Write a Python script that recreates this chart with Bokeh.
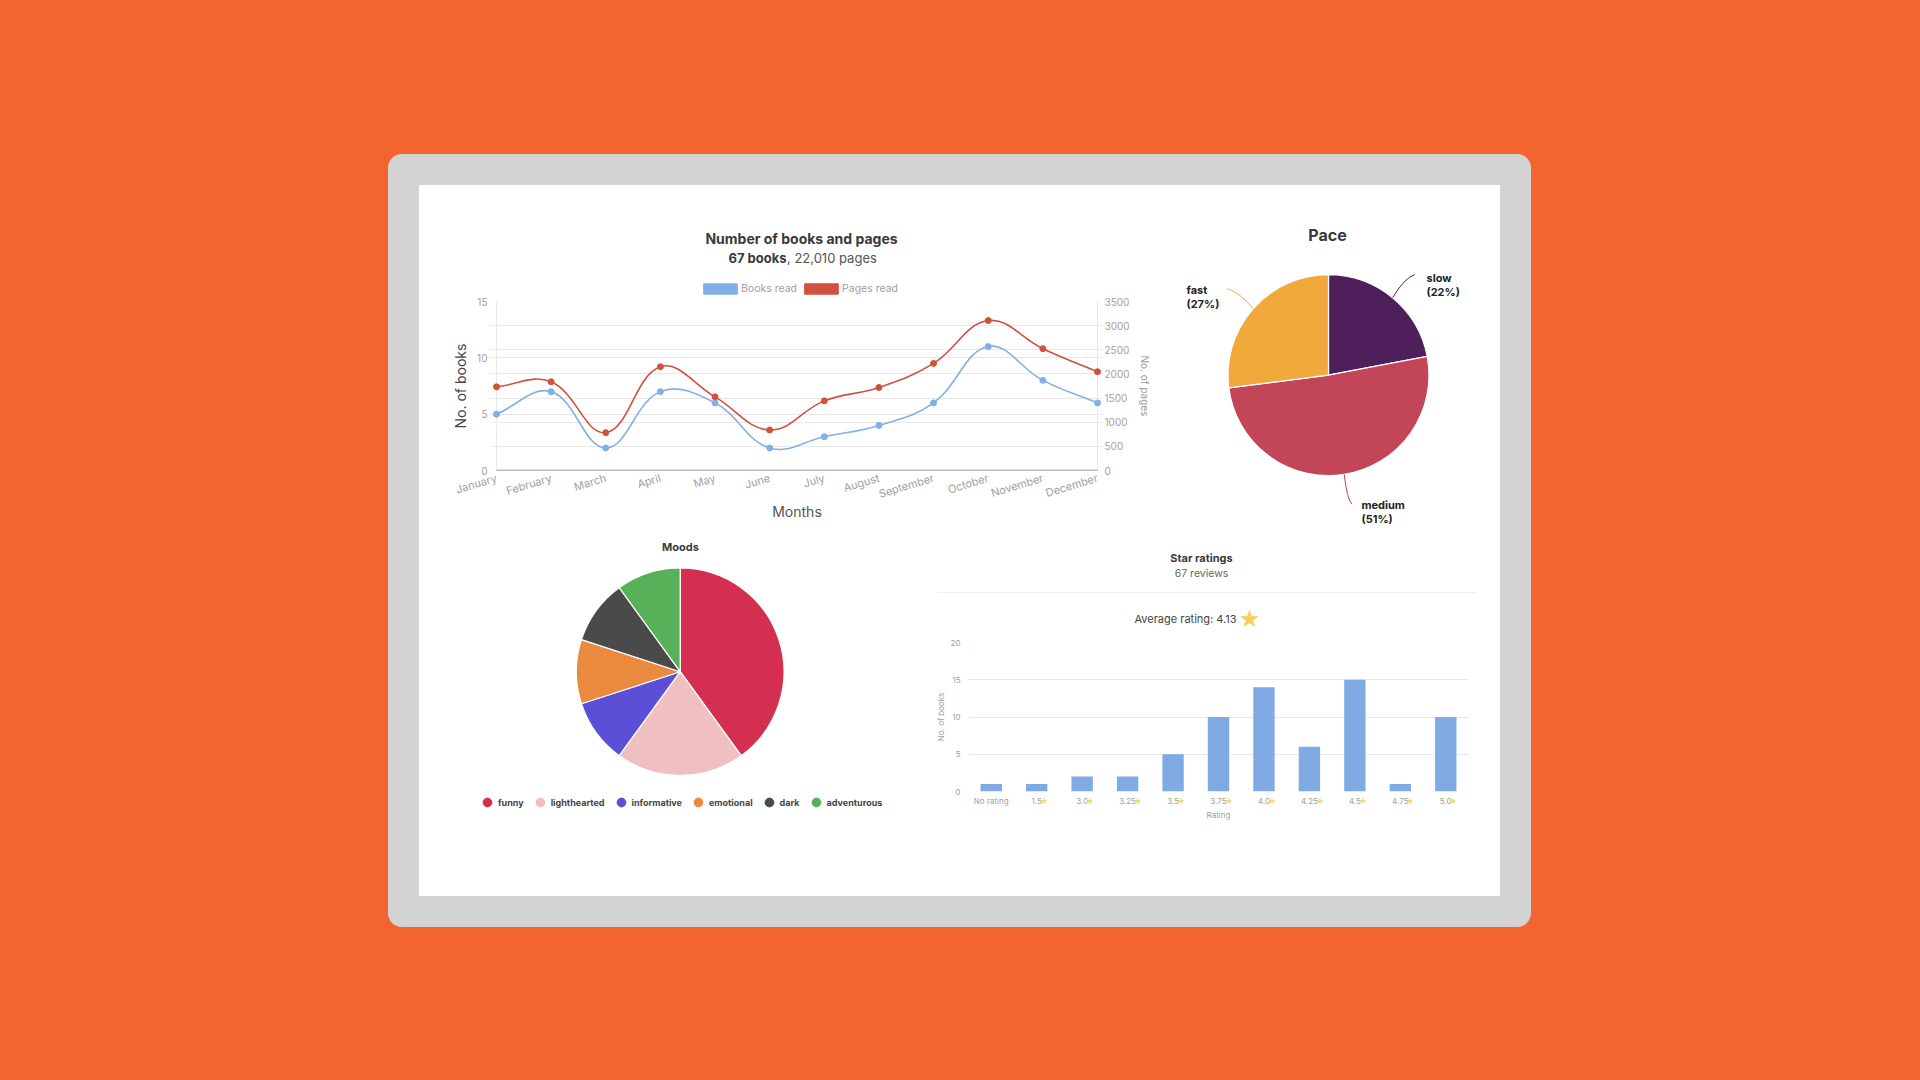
import math
from bokeh.plotting import figure
from bokeh.layouts import row, column
from bokeh.embed import file_html
from bokeh.resources import INLINE
from bokeh.models import (ColumnDataSource, LinearAxis, CategoricalAxis, Range1d, FactorRange, FixedTicker, Grid, Label,
                          LabelSet, Legend, LegendItem, Spacer, GlobalInlineStyleSheet)

months = ["January", "February", "March", "April", "May", "June", "July", "August", "September", "October", "November", "December"]
books = [5, 7, 2, 7, 6, 2, 3, 4, 6, 11, 8, 6]
pages = [1733, 1837, 783, 2149, 1525, 839, 1442, 1719, 2218, 3105, 2523, 2045]
pace_labels = ["slow", "medium", "fast"]
pace_values = [22, 51, 27]
pace_colors = ["#4F1F5C", "#C24558", "#F2A93B"]
mood_labels = ["funny", "lighthearted", "informative", "emotional", "dark", "adventurous"]
mood_values = [40, 20, 10, 10, 10, 10]
mood_colors = ["#D42F50", "#F0BFC0", "#5B4FD8", "#E98A3E", "#4A4A4A", "#58B158"]
rating_labels = ["No rating", "1.5", "3.0", "3.25", "3.5", "3.75", "4.0", "4.25", "4.5", "4.75", "5.0"]
rating_counts = [1, 1, 2, 2, 5, 10, 14, 6, 15, 1, 10]

FONT = "Inter"
DARK = "#3a3a3a"
GRAY = "#a0a0a0"
BLUE = "#82AFE6"
RED = "#D0513F"
GRID = "#e8e8e8"


def blank(fig):
    fig.outline_line_color = None
    fig.border_fill_color = "white"
    fig.background_fill_color = "white"
    fig.frame_align = False
    return fig


def canvas(x, y, w, h):
    """A figure whose frame is the whole area; its scale is the page's pixels."""
    fig = blank(figure(width=w, height=h, output_backend="svg", toolbar_location=None, min_border=0,
                       x_range=Range1d(x, x + w), y_range=Range1d(y + h, y),
                       x_axis_location=None, y_axis_location=None))
    fig.grid.visible = False
    return fig


def text(fig, x, y, s, size, frame, color=DARK, style="normal", align="center", font=FONT):
    fx, fy = frame
    fig.add_layout(Label(x=x - fx, y=fy - y, x_units="screen", y_units="screen", text=s, text_font=font,
                         text_font_size=size, text_color=color, text_font_style=style, text_align=align,
                         text_baseline="middle"))


def spline(xs, ys, sx, sy, t=0.4):
    """Chart.js style cubic control points, distance measured in pixels."""
    n = len(xs)
    prv, nxt = [], []
    for i in range(n):
        a = max(i - 1, 0)
        b = min(i + 1, n - 1)
        d01 = math.hypot((xs[i] - xs[a]) * sx, (ys[i] - ys[a]) * sy)
        d12 = math.hypot((xs[b] - xs[i]) * sx, (ys[b] - ys[i]) * sy)
        tot = d01 + d12 or 1
        fa, fb = t * d01 / tot, t * d12 / tot
        prv.append((xs[i] - fa * (xs[b] - xs[a]), ys[i] - fa * (ys[b] - ys[a])))
        nxt.append((xs[i] + fb * (xs[b] - xs[a]), ys[i] + fb * (ys[b] - ys[a])))
    return dict(x0=xs[:-1], y0=ys[:-1], x1=xs[1:], y1=ys[1:],
                cx0=[p[0] for p in nxt[:-1]], cy0=[p[1] for p in nxt[:-1]],
                cx1=[p[0] for p in prv[1:]], cy1=[p[1] for p in prv[1:]])


# ---------- line chart ----------
L_X, L_Y, L_W, L_H = 419, 296, 751, 239
F_L, F_R, F_T, F_B = 496, 1097, 301, 470
PAD = 6
sx = (F_R - F_L) / 11
line = blank(figure(width=L_W, height=L_H, output_backend="svg", toolbar_location=None,
                    x_range=Range1d(-PAD / sx, 11 + PAD / sx), y_range=Range1d(0, 15),
                    min_border_left=F_L - PAD - L_X, min_border_right=L_X + L_W - F_R - PAD,
                    min_border_top=F_T - L_Y, min_border_bottom=L_Y + L_H - F_B,
                    x_axis_location="below", y_axis_location="left"))
line.extra_y_ranges = {"pages": Range1d(0, 3500)}
line.grid.visible = False
xidx = list(range(len(months)))

line.xaxis.ticker = FixedTicker(ticks=xidx)
line.xaxis.major_label_overrides = dict(zip(xidx, months))
line.xaxis.major_label_orientation = math.radians(17)
line.xaxis.major_label_text_font = FONT
line.xaxis.major_label_text_font_size = "11px"
line.xaxis.major_label_text_color = GRAY
line.xaxis.axis_line_color = None
line.xaxis.major_tick_line_color = None
line.xaxis.minor_tick_line_color = None
line.xaxis.major_tick_out = 0
line.xaxis.major_label_standoff = 7
line.xaxis.axis_label = "Months"
line.xaxis.axis_label_text_font = FONT
line.xaxis.axis_label_text_font_size = "14px"
line.xaxis.axis_label_text_font_style = "normal"
line.xaxis.axis_label_text_color = "#555555"
line.xaxis.axis_label_standoff = -8

line.yaxis.ticker = FixedTicker(ticks=[0, 5, 10, 15])
right = LinearAxis(y_range_name="pages", ticker=FixedTicker(ticks=list(range(0, 3501, 500))), axis_label="No. of pages")
line.add_layout(right, "right")
for ax, size, col in ((line.yaxis[0], "14px", "#444444"), (right, "10px", "#999999")):
    ax.major_label_text_font = FONT
    ax.major_label_text_font_size = "10px"
    ax.major_label_text_color = GRAY
    ax.axis_line_color = None
    ax.major_tick_line_color = None
    ax.minor_tick_line_color = None
    ax.major_tick_out = 0
    ax.major_label_standoff = 3
    ax.axis_label_text_font = FONT
    ax.axis_label_text_font_size = size
    ax.axis_label_text_font_style = "normal"
    ax.axis_label_text_color = col
line.yaxis[0].axis_label = "No. of books"
line.yaxis[0].axis_label_standoff = 5
right.major_label_standoff = 1
right.axis_label_standoff = 6

line.add_layout(Grid(dimension=1, ticker=FixedTicker(ticks=[5, 10, 15]), grid_line_color=GRID))
line.add_layout(Grid(dimension=1, y_range_name="pages", ticker=FixedTicker(ticks=list(range(500, 3501, 500))), grid_line_color=GRID))
line.segment(x0=[0, 11], y0=[0, 0], x1=[0, 11], y1=[15, 15], line_color=GRID, line_width=1)
line.segment(x0=[0], y0=[0], x1=[11], y1=[0], line_color="#777777", line_width=1.5)

line.bezier(source=ColumnDataSource(spline(xidx, books, sx, (F_B - F_T) / 15)), x0="x0", y0="y0", x1="x1", y1="y1",
            cx0="cx0", cy0="cy0", cx1="cx1", cy1="cy1", line_color=BLUE, line_width=1.6)
line.bezier(source=ColumnDataSource(spline(xidx, pages, sx, (F_B - F_T) / 3500)), x0="x0", y0="y0", x1="x1", y1="y1",
            cx0="cx0", cy0="cy0", cx1="cx1", cy1="cy1", line_color=RED, line_width=1.6, y_range_name="pages")
line.scatter(xidx, books, size=6, fill_color=BLUE, line_color=BLUE)
line.scatter(xidx, pages, size=6, fill_color=RED, line_color=RED, y_range_name="pages")

# header of the line chart: titles and legend
line_head = canvas(L_X, 185, L_W, L_Y - 185)
fr = (L_X, L_Y)
text(line_head, 801, 238, "Number of books and pages", "14px", fr, style="bold")
text(line_head, 786, 257, "67 books", "13px", fr, style="bold", align="right")
text(line_head, 786.5, 257, ", 22,010 pages", "13px", fr, color="#555555", align="left")
nan = float("nan")
k_b = line_head.quad(left=[nan], right=[nan], top=[nan], bottom=[nan], fill_color=BLUE, line_color=BLUE)
k_p = line_head.quad(left=[nan], right=[nan], top=[nan], bottom=[nan], fill_color=RED, line_color=RED)
line_head.add_layout(Legend(items=[LegendItem(label="Books read", renderers=[k_b]), LegendItem(label="Pages read", renderers=[k_p])],
                            orientation="horizontal", location=(703 - 4 - L_X, 1), padding=0, margin=0, spacing=3,
                            glyph_width=42, glyph_height=13, label_standoff=0, label_text_font=FONT,
                            label_text_font_size="10.5px", label_text_color=GRAY, background_fill_alpha=0,
                            border_line_color=None, label_height=11))


# ---------- pies ----------
def pie(fig, values, colors):
    total = sum(values)
    cum, starts, ends = 0, [], []
    for v in values:
        starts.append(math.pi / 2 - 2 * math.pi * (cum + v) / total)
        ends.append(math.pi / 2 - 2 * math.pi * cum / total)
        cum += v
    fig.wedge(x=0, y=0, radius=1, start_angle=starts, end_angle=ends, fill_color=colors,
              line_color="white", line_width=1.2)
    return starts, ends


P_X, P_Y, P_W, P_H = 1170, 185, 330, 350
P_CX, P_CY, P_R = 1328, 374.7, 100.5
pace = blank(figure(width=P_W, height=P_H, output_backend="svg", toolbar_location=None, min_border=0,
                    x_range=Range1d((P_X - P_CX) / P_R, (P_X + P_W - P_CX) / P_R),
                    y_range=Range1d((P_CY - P_Y - P_H) / P_R, (P_CY - P_Y) / P_R),
                    x_axis_location=None, y_axis_location=None))
pace.grid.visible = False
st, en = pie(pace, pace_values, pace_colors)
fr = (P_X, P_Y + P_H)
text(pace, 1327, 234, "Pace", "16px", fr, style="bold")
lab_pos = [(1426, 277), (1361, 504), (1186, 289)]
shift = [0.03, 0.03, -0.03]
for i, lab in enumerate(pace_labels):
    mid = (st[i] + en[i]) / 2
    c, s = math.cos(mid), math.sin(mid)
    pace.quadratic(x0=[c], y0=[s], cx=[1.18 * c], cy=[1.25 * s], x1=[1.3 * c + shift[i]], y1=[1.3 * s],
                   line_color=pace_colors[i], line_width=1)
    x, y = lab_pos[i]
    text(pace, x, y, lab, "11px", fr, color="#222222", style="bold", align="left")
    text(pace, x, y + 14, f"({pace_values[i]}%)", "11px", fr, color="#222222", style="bold", align="left")

M_X, M_Y, M_W, M_H = 419, 535, 481, 361
M_CX, M_CY, M_R = 679.7, 671.2, 103.8
mood = blank(figure(width=M_W, height=M_H, output_backend="svg", toolbar_location=None, min_border=0,
                    x_range=Range1d((M_X - M_CX) / M_R, (M_X + M_W - M_CX) / M_R),
                    y_range=Range1d((M_CY - M_Y - M_H) / M_R, (M_CY - M_Y) / M_R),
                    x_axis_location=None, y_axis_location=None))
mood.grid.visible = False
pie(mood, mood_values, mood_colors)
fr = (M_X, M_Y + M_H)
text(mood, 680, 546, "Moods", "11px", fr, style="bold")
keys = mood.scatter(x=[nan] * len(mood_labels), y=[nan] * len(mood_labels), marker="circle",
                    fill_color=mood_colors, line_color=mood_colors)
mood.add_layout(Legend(items=[LegendItem(label=l, renderers=[keys], index=i) for i, l in enumerate(mood_labels)],
                       orientation="horizontal", location=(57, 83), padding=0, margin=0, spacing=5,
                       glyph_width=22, glyph_height=22, label_standoff=-2, label_text_font=FONT,
                       label_text_font_size="9px", label_text_font_style="bold", label_text_color="#444444",
                       background_fill_alpha=0, border_line_color=None))

# ---------- bars ----------
B_X, B_W = 900, 600
H_Y, H_H = 535, 97            # header strip
C_Y, C_H = 632, 165           # chart
A_Y, A_H = 797, 99            # axis strip
G_L, G_R, G_T, G_B = 968, 1468, 642, 791
bars = blank(figure(width=B_W, height=C_H, output_backend="svg", toolbar_location=None,
                    x_range=FactorRange(factors=rating_labels, range_padding=0, factor_padding=0, group_padding=0),
                    y_range=Range1d(0, 20), min_border_left=G_L - B_X, min_border_right=B_X + B_W - G_R,
                    min_border_top=G_T - C_Y, min_border_bottom=C_Y + C_H - G_B, x_axis_location=None))
bars.vbar(x=rating_labels, top=rating_counts, width=0.47, fill_color="#7FAAE3", line_color=None)
bars.xgrid.visible = False
bars.ygrid.grid_line_color = GRID
bars.ygrid.ticker = FixedTicker(ticks=[0, 5, 10, 15, 20])
bars.yaxis.ticker = FixedTicker(ticks=[0, 5, 10, 15, 20])
bars.yaxis.axis_line_color = None
bars.yaxis.major_tick_line_color = None
bars.yaxis.minor_tick_line_color = None
bars.yaxis.major_tick_out = 0
bars.yaxis.major_label_standoff = 8
bars.yaxis.axis_label = "No. of books"
bars.yaxis.axis_label_standoff = 2
bars.yaxis.major_label_text_font = FONT
bars.yaxis.major_label_text_font_size = "8px"
bars.yaxis.major_label_text_color = GRAY
bars.yaxis.axis_label_text_font = FONT
bars.yaxis.axis_label_text_font_size = "8px"
bars.yaxis.axis_label_text_font_style = "normal"
bars.yaxis.axis_label_text_color = GRAY

strip = blank(figure(width=B_W, height=A_H, output_backend="svg", toolbar_location=None,
                     x_range=FactorRange(factors=rating_labels, range_padding=0, factor_padding=0, group_padding=0),
                     y_range=Range1d(0, 1), min_border_left=G_L - B_X, min_border_right=B_X + B_W - G_R,
                     min_border_top=0, min_border_bottom=0, x_axis_location=None, y_axis_location=None))
strip.grid.visible = False
xa = CategoricalAxis(fixed_location=1 + 6 / A_H, axis_line_color=None, major_tick_line_color=None,
                     minor_tick_line_color=None, major_tick_out=0, major_label_standoff=4,
                     axis_label="Rating", axis_label_standoff=1, axis_label_text_font=FONT,
                     axis_label_text_font_size="8px", axis_label_text_font_style="normal", axis_label_text_color=GRAY,
                     major_label_text_font=FONT, major_label_text_font_size="8px", major_label_text_color=GRAY,
                     major_label_overrides={r: (r if r == "No rating" else r + "\u00a0\u00a0") for r in rating_labels})
strip.add_layout(xa, "below")
star_src = ColumnDataSource(dict(x=rating_labels[1:], y=[1] * 10, t=["\u2605"] * 10,
                                 off=[len(r) * 2.4 + 0.5 for r in rating_labels[1:]]))
strip.add_layout(LabelSet(x="x", y="y", text="t", source=star_src, x_offset="off", y_offset=-3, text_font="DejaVu Sans",
                          text_font_size="9px", text_color="#F5D977", text_align="center", text_baseline="middle"))

head = canvas(B_X, H_Y, B_W, H_H)
fr = (B_X, H_Y + H_H)
text(head, 1201, 557, "Star ratings", "11px", fr, style="bold")
text(head, 1201, 573, "67 reviews", "10.5px", fr, color="#666666")
text(head, 1185, 618, "Average rating: 4.13", "11px", fr, color="#444444")
text(head, 1249, 618, "\u2605", "24px", fr, color="#F5CF57", font="DejaVu Sans")
head.segment(x0=[936], y0=[592], x1=[1475], y1=[592], line_color="#eeeeee", line_width=1)

# ---------- page ----------
white = column(row(column(line_head, line), pace), row(mood, column(head, bars, strip)),
               width=1081, height=711, styles={"background-color": "white"})
panel = column(Spacer(height=31, width=1143), row(Spacer(width=31, height=711), white, Spacer(width=31, height=711)),
               Spacer(height=31, width=1143), width=1143, height=773,
               styles={"background-color": "#D3D3D3", "border-radius": "14px"})
root = column(Spacer(height=154, width=1904), row(Spacer(width=388, height=773), panel), width=1904, height=1064,
              stylesheets=[GlobalInlineStyleSheet(css="html,body{background:#F26430;}")])

open("out.html", "w").write(file_html(root, INLINE))
